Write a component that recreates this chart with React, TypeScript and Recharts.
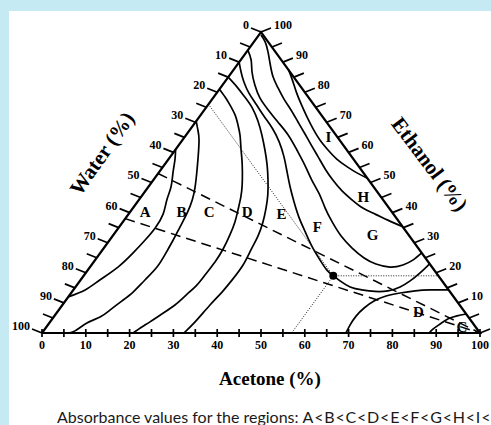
import { ScatterChart, Scatter, XAxis, YAxis } from "recharts"

// every point is [acetone %, ethanol %]; water = 100 - acetone - ethanol
type Pt = [number, number]

const triangle: Pt[] = [[0, 0], [100, 0], [0, 100], [0, 0]]

const curveAB: Pt[] = [[0, 12], [2.7, 14.3], [4.4, 17.6], [6.4, 21.9], [7.5, 26.6], [8.1, 30.9], [8.4, 34.9], [7.9, 39.5], [6.4, 44.2], [5.2, 48.5], [3.3, 53.2], [1.6, 57.5], [0, 61]]
const curveBC: Pt[] = [[6, 0], [7.2, 0.7], [8.6, 3.3], [10.6, 5.3], [11.7, 7.6], [12.9, 10.6], [14.0, 13.6], [14.7, 17.6], [15.3, 21.9], [15.0, 26.6], [14.5, 30.9], [13.9, 35.2], [13.2, 39.9], [12.2, 44.2], [10.7, 48.5], [8.6, 53.5], [6.4, 58.5], [3.8, 64.1], [1.9, 67.4], [0, 70.4]]
const curveCD: Pt[] = [[20.8, 0], [21.8, 2.0], [22.8, 3.7], [24.2, 6.3], [25.7, 9.3], [26.6, 12.6], [27.4, 16.0], [27.6, 19.6], [27.7, 23.6], [27.4, 27.9], [26.6, 32.6], [25.6, 36.9], [24.3, 40.9], [22.8, 45.2], [21.1, 49.2], [19.0, 53.5], [16.9, 57.5], [14.5, 61.8], [12.3, 65.8], [10.0, 69.4], [7.9, 72.4], [5.0, 75.8], [2.6, 78.4], [0, 81]]
const curveDE: Pt[] = [[32.4, 0], [33.1, 3.7], [33.7, 9.3], [34.3, 13.6], [34.6, 17.9], [34.6, 22.6], [33.9, 27.6], [33.2, 32.2], [32.0, 36.9], [30.4, 41.5], [28.6, 45.9], [26.2, 50.8], [23.5, 55.8], [20.5, 60.8], [17.3, 65.8], [14.1, 70.4], [10.6, 74.8], [7.1, 78.4], [3.7, 81.7], [0, 85]]
const curveEF: Pt[] = [[0, 90], [2.1, 86.7], [4.4, 83.4], [7.4, 79.7], [10.8, 76.1], [14.6, 72.1], [18.5, 68.1], [22.4, 63.5], [26.0, 58.5], [29.2, 53.5], [32.4, 48.5], [35.8, 43.5], [39.4, 38.5], [43.3, 33.6], [47.4, 28.6], [51.3, 24.3], [54.6, 20.9], [57, 19], [59.4, 17.3], [62.7, 15.3], [65.9, 14.3], [69.1, 13.8], [72.0, 14.0], [74.1, 15.3], [75.4, 17.3], [76.3, 19.9], [77, 23]]
const curveFG: Pt[] = [[0, 94], [2.4, 90.7], [4.6, 86.7], [7.4, 82.4], [10.7, 78.1], [14.6, 74.1], [18.8, 70.1], [23.3, 65.8], [27.8, 60.8], [32.1, 55.8], [36.2, 50.8], [40.2, 46.2], [43.9, 41.5], [47.8, 36.9], [52.2, 32.2], [56.7, 28.2], [61.1, 24.9], [64.8, 22.9], [68.5, 21.9], [71.1, 22.6], [72.6, 24.3], [73.4, 26.6]]
const curveGH: Pt[] = [[0.5, 99], [2.6, 96.7], [4.9, 93.4], [7.2, 89.7], [10.2, 85.1], [13.2, 81.4], [16.4, 77.7], [19.8, 74.1], [23.4, 70.1], [27.0, 66.1], [30.2, 62.5], [33.8, 58.5], [37.4, 54.5], [41.0, 50.8], [44.9, 47.2], [48.7, 44.2], [52.5, 41.5], [56.3, 39.5], [60.2, 37.5], [64.7, 35.3]]
const curveHI: Pt[] = [[12.6, 87.4], [15.1, 84.1], [18.0, 80.1], [21.1, 76.1], [24.6, 71.8], [28.0, 67.8], [31.4, 64.1], [34.9, 60.8], [38.4, 57.8], [42.1, 55.2], [45.3, 53.2], [48.6, 51.4]]
const curveLowD: Pt[] = [[69.4, 0], [69.0, 2.7], [68.9, 5.7], [69.4, 8.3], [70.5, 10.6], [72.4, 12.3], [75.1, 13.3], [78.2, 14.0], [81.4, 14.3], [85.7, 14.3]]
const curveLowC: Pt[] = [[88.4, 0], [88.6, 1.3], [89.4, 3.0], [90.4, 4.7], [91.9, 5.7], [93.7, 6.3]]

const dashUpper: Pt[] = [[0, 53], [100, 0]]
const dashLower: Pt[] = [[0, 38], [100, 0]]

const optimum: Pt = [57, 19]
const guideWater: Pt[] = [[0, 76], optimum]
const guideEthanol: Pt[] = [optimum, [81, 19]]
const guideAcetone: Pt[] = [optimum, [57, 0]]

const regionNames = ["A", "B", "C", "D", "E", "F", "G", "H", "I", "D", "C"]
const regionSpots: Pt[] = [[3.4, 40.3], [11.7, 40.3], [18.0, 40.3], [26.7, 40.3], [34.8, 39.8], [45.1, 35.5], [59.2, 32.6], [50.7, 45.3], [32.8, 65.2], [82.4, 7.1], [94.8, 2.1]]

const tickSteps = [0, 5, 10, 15, 20, 25, 30, 35, 40, 45, 50, 55, 60, 65, 70, 75, 80, 85, 90, 95, 100]
const labelSteps = [0, 10, 20, 30, 40, 50, 60, 70, 80, 90, 100]

const captionHead = "Absorbance values for the regions: "
const captionOrder = "A<B<C<D<E<F<G<H<I<"

const serif = "'Liberation Serif', 'Times New Roman', serif"

const toXY = ([a, e]: Pt) => ({ x: a + e / 2, y: e })
const line = (pts: Pt[]) => pts.map(toXY)

const noDot = () => <g />

const curves = [curveAB, curveBC, curveCD, curveDE, curveEF, curveFG, curveGH, curveHI, curveLowD, curveLowC]

export default function App() {
  const leftTicks = tickSteps.map(w => toXY([0, 100 - w]))
  const rightTicks = tickSteps.map(e => toXY([100 - e, e]))
  const bottomTicks = tickSteps.map(a => toXY([a, 0]))
  const leftLabels = labelSteps.map(w => ({ ...toXY([0, 100 - w]), label: String(w) }))
  const rightLabels = labelSteps.filter(e => e > 0).map(e => ({ ...toXY([100 - e, e]), label: String(e) }))
  const bottomLabels = labelSteps.map(a => ({ ...toXY([a, 0]), label: String(a) }))
  const regions = regionNames.map((n, i) => ({ ...toXY(regionSpots[i]), label: n }))

  const tickText = { fontFamily: serif, fontWeight: 700, fontSize: 12, fill: "#000" }

  return (
    <div style={{ position: "absolute", left: 0, top: 0, width: 491, height: 425, background: "#c5eaf4", overflow: "hidden" }}>
      <div style={{ position: "absolute", left: 9, top: 11, right: 0, bottom: 0, background: "#fff" }} />
      <div style={{ position: "absolute", left: 0, top: 0 }}>
        <ScatterChart width={491} height={425} margin={{ top: 0, right: 0, bottom: 0, left: 0 }}>
          <XAxis type="number" dataKey="x" domain={[-9.589, 102.511]} hide />
          <YAxis type="number" dataKey="y" domain={[-30.565, 110.631]} hide />

          {curves.map((c, i) => (
            <Scatter key={"c" + i} data={line(c)} fill="#000" shape={noDot}
              line={{ stroke: "#000", strokeWidth: 1.7 }} lineJointType="natural" isAnimationActive={false} />
          ))}

          {[dashUpper, dashLower].map((c, i) => (
            <Scatter key={"d" + i} data={line(c)} fill="#000" shape={noDot}
              line={{ stroke: "#000", strokeWidth: 1.5, strokeDasharray: "10 6" }} isAnimationActive={false} />
          ))}

          {[guideWater, guideEthanol, guideAcetone].map((c, i) => (
            <Scatter key={"g" + i} data={line(c)} fill="#000" shape={noDot}
              line={{ stroke: "#222", strokeWidth: 1, strokeDasharray: "1 1.5" }} isAnimationActive={false} />
          ))}

          <Scatter data={line(triangle)} fill="#000" shape={noDot}
            line={{ stroke: "#000", strokeWidth: 2.2 }} isAnimationActive={false} />

          <Scatter data={leftTicks} isAnimationActive={false}
            shape={(p: any) => <line x1={p.cx} y1={p.cy} x2={p.cx - 10} y2={p.cy - 4} stroke="#000" strokeWidth={1.7} />} />
          <Scatter data={rightTicks} isAnimationActive={false}
            shape={(p: any) => <line x1={p.cx} y1={p.cy} x2={p.cx + 10} y2={p.cy - 4} stroke="#000" strokeWidth={1.7} />} />
          <Scatter data={bottomTicks} isAnimationActive={false}
            shape={(p: any) => <line x1={p.cx} y1={p.cy - 4} x2={p.cx} y2={p.cy + 4} stroke="#000" strokeWidth={1.7} />} />

          <Scatter data={leftLabels} isAnimationActive={false}
            shape={(p: any) => <text x={p.cx - 12} y={p.cy - 3} textAnchor="end" style={tickText}>{p.payload.label}</text>} />
          <Scatter data={rightLabels} isAnimationActive={false}
            shape={(p: any) => <text x={p.cx + 13} y={p.cy - 3} textAnchor="start" style={tickText}>{p.payload.label}</text>} />
          <Scatter data={bottomLabels} isAnimationActive={false}
            shape={(p: any) => <text x={p.cx} y={p.cy + 16} textAnchor="middle" style={tickText}>{p.payload.label}</text>} />

          <Scatter data={regions} isAnimationActive={false}
            shape={(p: any) => <text x={p.cx} y={p.cy} dy="0.36em" textAnchor="middle" style={{ fontFamily: serif, fontWeight: 700, fontSize: 15, fill: "#000" }}>{p.payload.label}</text>} />

          <Scatter data={[toXY(optimum)]} fill="#000" isAnimationActive={false}
            shape={(p: any) => <circle cx={p.cx} cy={p.cy} r={4} fill="#000" />} />

          <Scatter data={[{ x: 13.63, y: 59.7, label: "Water (%)", rot: -55, size: 21 }, { x: 88.58, y: 56.15, label: "Ethanol (%)", rot: 53, size: 21 }, { x: 52.05, y: -15.05, label: "Acetone (%)", rot: 0, size: 19 }]}
            isAnimationActive={false}
            shape={(p: any) => (
              <text x={p.cx} y={p.cy} dy="0.35em" textAnchor="middle" transform={`rotate(${p.payload.rot} ${p.cx} ${p.cy})`}
                style={{ fontFamily: serif, fontWeight: 700, fontSize: p.payload.size, fill: "#000" }}>{p.payload.label}</text>
            )} />

          <Scatter data={[{ x: 3.42, y: -28.2 }]}
            isAnimationActive={false}
            shape={(p: any) => (
              <text x={p.cx} y={p.cy} dy="0.35em" textAnchor="start"
                style={{ fontFamily: "Lato, 'Noto Sans', sans-serif", fontSize: 16, fill: "#1a1a1a" }}>
                {captionHead}<tspan letterSpacing={0.8}>{captionOrder}</tspan>
              </text>
            )} />
        </ScatterChart>
      </div>
    </div>
  )
}
